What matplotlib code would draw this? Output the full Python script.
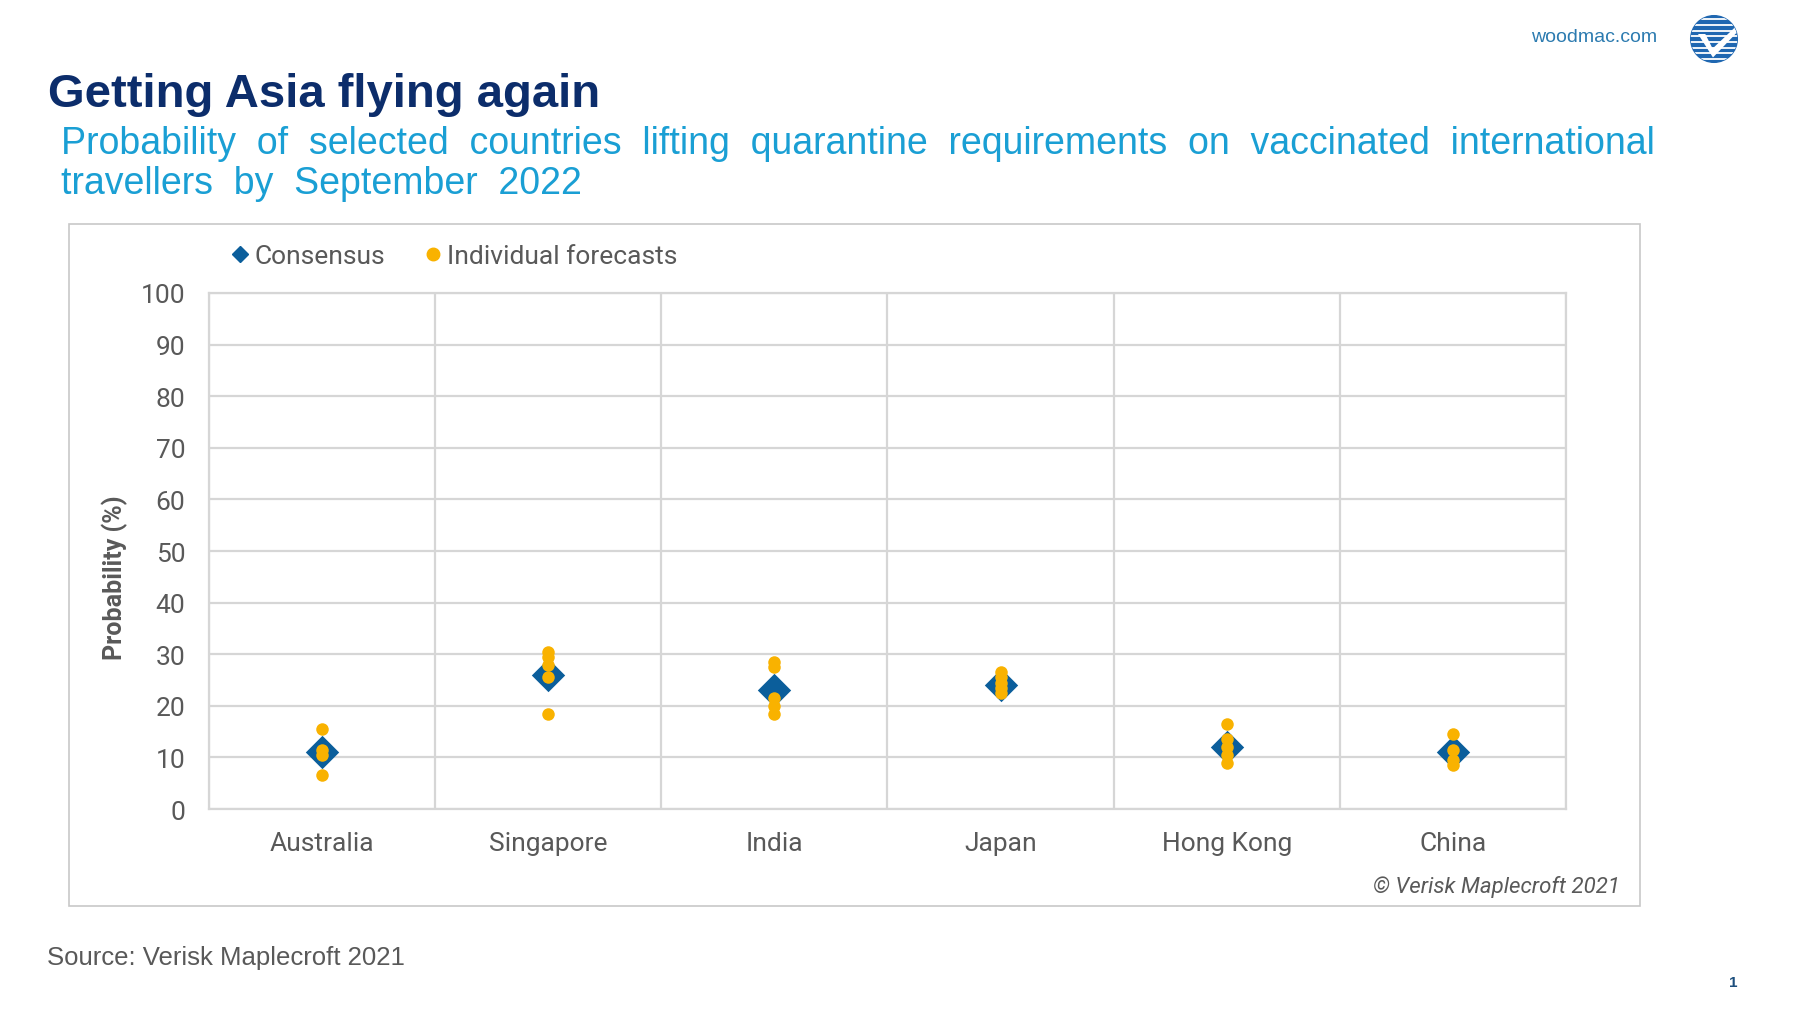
import numpy as np
import matplotlib
matplotlib.use("Agg")
import matplotlib.pyplot as plt
from matplotlib.lines import Line2D
from matplotlib.patches import Rectangle, Circle, Polygon

countries = ["Australia", "Singapore", "India", "Japan", "Hong Kong", "China"]
consensus = [11, 26, 23, 24, 12, 11]
individual = [
    [15.5, 11.5, 10.5, 6.5],
    [30.5, 29.5, 28, 25.5, 18.5],
    [28.5, 27.5, 21.5, 20, 18.5],
    [26.5, 25.5, 24.5, 23.5, 22.5],
    [16.5, 13.5, 12, 10.5, 9],
    [14.5, 11.5, 9.5, 8.5],
]
y_ticks = list(range(0, 101, 10))

C_BLUE = "#0b5e9b"
C_ORANGE = "#f9b200"
C_GRID = "#d6d6d6"
C_TXT = "#595959"
C_TITLE = "#0c2d6b"
C_SUB = "#1a9fd4"

W, H = 1800, 1012
fig = plt.figure(figsize=(W / 100, H / 100), dpi=100)
fig.patch.set_facecolor("white")


def fx(px):
    return px / W


def fy(py):
    return 1 - py / H


# header
fig.text(fx(48), fy(107), "Getting Asia flying again", fontsize=34, fontweight="bold",
         color=C_TITLE, family="Liberation Sans", va="baseline")
fig.text(fx(61), fy(154), "Probability  of  selected  countries  lifting  quarantine  requirements  on  vaccinated  international",
         fontsize=27, color=C_SUB, family="Liberation Sans", va="baseline")
fig.text(fx(61), fy(194), "travellers  by  September  2022",
         fontsize=27, color=C_SUB, family="Liberation Sans", va="baseline")
fig.text(fx(1657), fy(38), "woodmac.com", fontsize=14, color="#2c7bb0",
         family="Liberation Sans", ha="right", va="center")

# chart box
fig.add_artist(Rectangle((fx(69), fy(907)), fx(1640) - fx(69), fy(225) - fy(907),
                         transform=fig.transFigure, fill=False, edgecolor="#c8c8c8", lw=1.2))

ax = fig.add_axes([fx(209), fy(810), fx(1566) - fx(209), fy(294) - fy(810)])
x = np.arange(len(countries))
ax.scatter(x, consensus, marker="D", s=17 ** 2, color=C_BLUE, zorder=3, linewidths=0)
for i, vals in enumerate(individual):
    ax.scatter([x[i]] * len(vals), vals, marker="o", s=9 ** 2, color=C_ORANGE, zorder=4, linewidths=0)

ax.set_xlim(-0.5, len(countries) - 0.5)
ax.set_ylim(0, 100)
ax.set_yticks(y_ticks)
ax.set_xticks(x)
ax.set_xticklabels(countries)
ax.set_xticks(np.arange(-0.5, len(countries)), minor=True)
ax.grid(True, axis="y", color=C_GRID, lw=1.6)
ax.grid(True, axis="x", which="minor", color=C_GRID, lw=1.6)
ax.set_axisbelow(True)
for s in ax.spines.values():
    s.set_color(C_GRID)
    s.set_linewidth(1.6)
ax.tick_params(which="both", length=0)
ax.tick_params(axis="y", labelsize=19, labelcolor=C_TXT, pad=17)
ax.tick_params(axis="x", labelsize=19, labelcolor=C_TXT, pad=16)
for lab in ax.get_xticklabels() + ax.get_yticklabels():
    lab.set_family("Roboto")
ax.set_ylabel("Probability (%)", fontsize=18, fontweight="bold", color=C_TXT, family="Roboto")
ax.yaxis.set_label_coords(-0.06, 0.45)

# legend
handles = [
    Line2D([], [], marker="D", ls="", color=C_BLUE, ms=8, label="Consensus"),
    Line2D([], [], marker="o", ls="", color=C_ORANGE, ms=9, label="Individual forecasts"),
]
leg = fig.legend(handles=handles, loc="center left", bbox_to_anchor=(fx(203), fy(257)),
                 ncol=2, frameon=False, handletextpad=0.05, columnspacing=1.3,
                 handlelength=1.0, prop={"family": "Roboto", "size": 19})
for t in leg.get_texts():
    t.set_color(C_TXT)

fig.text(fx(1620), fy(887), "© Verisk Maplecroft 2021", fontsize=16, style="italic",
         color=C_TXT, family="Roboto", ha="right", va="center")

# footer
fig.text(fx(47), fy(958), "Source: Verisk Maplecroft 2021", fontsize=18.5, color=C_TXT,
         family="Liberation Sans", va="center")
fig.text(fx(1733), fy(983), "1", fontsize=11, fontweight="bold", color="#1d4f7d",
         family="Liberation Sans", ha="center", va="center")

# logo
lax = fig.add_axes([fx(1686), fy(68), fx(56), fy(12) - fy(68)])
lax.set_xlim(-1.2, 1.2)
lax.set_ylim(-1.2, 1.2)
lax.set_aspect("equal")
lax.axis("off")
circ = Circle((0, 0), 1.0, color="#1f67b1")
lax.add_patch(circ)
for yy in np.linspace(-0.85, 0.85, 8):
    ln = Line2D([-1, 1], [yy, yy], color="white", lw=1.3)
    lax.add_line(ln)
    ln.set_clip_path(circ)
chk = Polygon([(-0.75, 0.25), (-0.35, 0.25), (-0.05, -0.35), (0.9, 0.55), (1.05, 0.3), (-0.05, -0.85)],
              closed=True, facecolor="white", edgecolor="#1f67b1", lw=1.2)
lax.add_patch(chk)
chk.set_clip_path(circ)

fig.savefig("out.png", dpi=100, facecolor="white")
